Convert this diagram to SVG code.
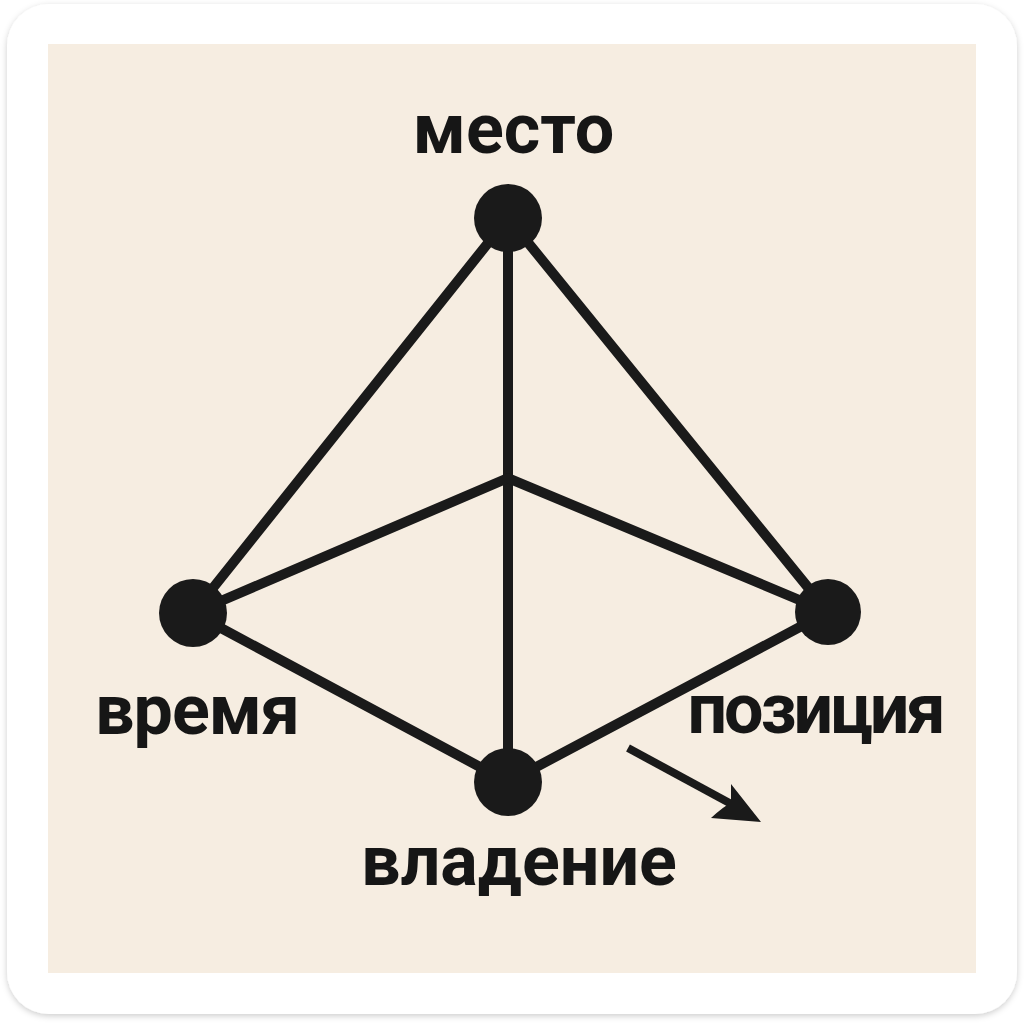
<svg xmlns="http://www.w3.org/2000/svg" width="1024" height="1024" viewBox="0 0 1024 1024">
<defs>
<style>
.edge{stroke:#1a1a1a;stroke-width:10;stroke-linecap:round;fill:none}
.node{fill:#1a1a1a}
.lbl{font-family:Roboto,"Liberation Sans",Arial,sans-serif;font-weight:bold;font-size:70px;fill:#161616;text-anchor:middle}
</style>
<filter id="sh" x="-5%" y="-5%" width="110%" height="110%">
<feDropShadow dx="0" dy="2" stdDeviation="3" flood-color="#000" flood-opacity="0.2"/>
</filter>
</defs>
<rect x="0" y="0" width="1024" height="1024" fill="#ffffff"/>
<rect x="7" y="4" width="1010" height="1010" rx="42" fill="#ffffff" filter="url(#sh)"/>
<rect x="48" y="44" width="928" height="929" fill="#f6ede1"/>
<g id="connectors">
<line class="edge" x1="508" y1="218" x2="193" y2="613"/>
<line class="edge" x1="508" y1="218" x2="828" y2="612"/>
<line class="edge" x1="508" y1="218" x2="508" y2="782"/>
<line class="edge" x1="508" y1="478" x2="193" y2="613"/>
<line class="edge" x1="508" y1="478" x2="828" y2="612"/>
<line class="edge" x1="193" y1="613" x2="508" y2="782"/>
<line class="edge" x1="828" y1="612" x2="508" y2="782"/>
<path d="M628,748 L735,806" stroke="#1a1a1a" stroke-width="8" fill="none"/>
<path d="M761,822 L711,818 Q724,806 731,803 L731,784 Z" fill="#1a1a1a"/>
</g>
<g id="node-mesto">
<circle class="node" cx="508" cy="218" r="34"/>
<text class="lbl" x="513.5" y="153">место</text>
</g>
<g id="node-vremya">
<circle class="node" cx="193" cy="613" r="34"/>
<text class="lbl" x="197" y="734" letter-spacing="-1">время</text>
</g>
<g id="node-pozitsiya">
<circle class="node" cx="828" cy="612" r="33"/>
<text class="lbl" x="815" y="733" letter-spacing="-3">позиция</text>
</g>
<g id="node-vladenie">
<circle class="node" cx="508" cy="782" r="34"/>
<text class="lbl" x="519" y="885">владение</text>
</g>
</svg>
